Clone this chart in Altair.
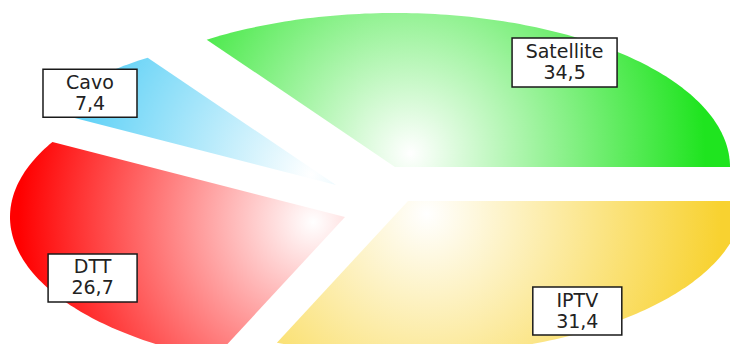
import math
import altair as alt

# ---- data ----
categories = ["Satellite", "Cavo", "DTT", "IPTV"]
values = [34.5, 7.4, 26.7, 31.4]

# ---- style ----
W, H = 722, 336
RX, RY = 335, 154            # ellipse radii (tilted pie)
CX, CY = 367, 182            # pie centre in chart coords
explode = {"Satellite": (20, -23), "Cavo": (-39, -5), "DTT": (-30, 27), "IPTV": (33, 11)}
colors = {"Satellite": "#1fe41f", "Cavo": "#38c6f4", "DTT": "#ff0000", "IPTV": "#f8d230"}
label_place = {"Satellite": (0.847, -8.8), "Cavo": (0.946, 3.4), "DTT": (0.851, 8.8), "IPTV": (0.875, 1.8)}
box_size = {"Satellite": (105, 49), "Cavo": (94, 48), "DTT": (89, 48), "IPTV": (89, 48)}

proj = dict(type="identity", scale=1, translate=[0, 0])

total = sum(values)
layers = []
label_rows = []
box_features = []
cum = 0.0
for cat, v in zip(categories, values):
    t0 = 2 * math.pi * cum / total
    t1 = 2 * math.pi * (cum + v) / total
    cum += v
    mid = (t0 + t1) / 2
    ax = CX + explode[cat][0]
    ay = CY + explode[cat][1]
    n = max(8, int(abs(t1 - t0) / math.radians(1.0)))
    pts = [[ax, ay]]
    for i in range(n + 1):
        t = t0 + (t1 - t0) * i / n
        pts.append([ax + RX * math.cos(t), ay - RY * math.sin(t)])
    pts.append([ax, ay])
    xs = [p[0] for p in pts]
    ys = [p[1] for p in pts]
    bx0, bx1, by0, by1 = min(xs), max(xs), min(ys), max(ys)
    w, h = bx1 - bx0, by1 - by0
    s = max(w, h)
    gx = ax + 0.1 * RX * math.cos(mid)
    gy = ay - 0.1 * RY * math.sin(mid)
    fx = 0.5 + (gx - (bx0 + w / 2)) / s
    fy = 0.5 + (gy - (by0 + h / 2)) / s
    r = RX / s
    grad = {
        "gradient": "radial",
        "x1": fx, "y1": fy, "r1": 0,
        "x2": fx, "y2": fy, "r2": r,
        "stops": [
            {"offset": 0, "color": "#ffffff"},
            {"offset": 0.88, "color": colors[cat]},
            {"offset": 1, "color": colors[cat]},
        ],
    }
    feature = {"type": "Feature", "properties": {"name": cat},
               "geometry": {"type": "Polygon", "coordinates": [pts]}}
    layers.append(
        alt.Chart(alt.Data(values=[feature]))
        .mark_geoshape(fill=grad, strokeOpacity=0)
        .project(**proj)
    )
    lr, dm = label_place[cat]
    ang = mid + math.radians(dm)
    lx = ax + lr * RX * math.cos(ang)
    ly = ay - lr * RY * math.sin(ang)
    label_rows.append({"x": lx, "y": ly,
                       "label": cat + "\n" + f"{v:.1f}".replace(".", ",")})
    bw, bh = box_size[cat]
    rect = [[lx - bw / 2, ly - bh / 2], [lx + bw / 2, ly - bh / 2],
            [lx + bw / 2, ly + bh / 2], [lx - bw / 2, ly + bh / 2],
            [lx - bw / 2, ly - bh / 2]]
    box_features.append({"type": "Feature", "properties": {"name": cat},
                         "geometry": {"type": "Polygon", "coordinates": [rect]}})

boxes = (
    alt.Chart(alt.Data(values=box_features))
    .mark_geoshape(fill="#ffffff", stroke="#1a1a1a", strokeWidth=1.5)
    .project(**proj)
)

texts = (
    alt.Chart(alt.Data(values=label_rows))
    .mark_text(font="DejaVu Sans", fontSize=19, lineHeight=21, lineBreak="\n",
               color="#222222", align="center", baseline="middle", dy=-10.5)
    .encode(longitude="x:Q", latitude="y:Q", text="label:N")
    .project(**proj)
)

chart = (
    alt.layer(*layers, boxes, texts)
    .properties(width=W, height=H, padding=0, autosize="none")
    .configure_view(strokeWidth=0)
)

chart.save("out.html", embed_options={"renderer": "svg", "actions": False})
